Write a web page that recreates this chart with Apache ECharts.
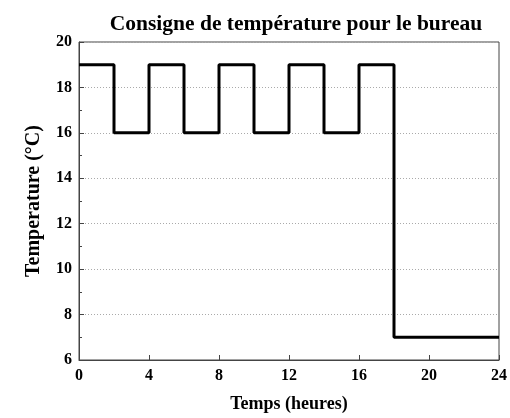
<!DOCTYPE html>
<html>
<head>
<meta charset="utf-8">
<script src="https://cdn.jsdelivr.net/npm/echarts@6/dist/echarts.min.js"></script>
<style>
html, body { margin: 0; padding: 0; background: #fff; }
#chart { width: 510px; height: 418px; }
</style>
</head>
<body>
<div id="chart"></div>
<script>
var hours = [0, 2, 4, 6, 8, 10, 12, 14, 16, 18, 24];
var setpoint = [19, 16, 19, 16, 19, 16, 19, 16, 19, 7, 7];

var points = hours.map(function (h, i) {
    return [h, setpoint[i]];
});

var font = 'Liberation Serif';
var option = {
    animation: false,
    title: {
        text: 'Consigne de température pour le bureau',
        left: 291,
        textAlign: 'center',
        top: 8,
        textStyle: { fontFamily: font, fontWeight: 'bold', fontSize: 21.5, color: '#000' }
    },
    grid: {
        left: 79,
        right: 7,
        top: 42,
        bottom: 55,
        show: true,
        borderColor: '#444',
        borderWidth: 1
    },
    xAxis: {
        type: 'value',
        min: 0,
        max: 24,
        interval: 4,
        name: 'Temps (heures)',
        nameLocation: 'middle',
        nameGap: 35,
        nameTextStyle: { fontFamily: font, fontWeight: 'bold', fontSize: 18, color: '#000' },
        axisLine: { lineStyle: { color: '#444' } },
        axisTick: { inside: true, length: 5, lineStyle: { color: '#444' } },
        axisLabel: { fontFamily: font, fontWeight: 'bold', fontSize: 16, color: '#000', margin: 8 },
        splitLine: { show: false }
    },
    yAxis: {
        type: 'value',
        min: 6,
        max: 20,
        interval: 2,
        name: 'Temperature (°C)',
        nameLocation: 'middle',
        nameGap: 35,
        nameTextStyle: { fontFamily: font, fontWeight: 'bold', fontSize: 20, color: '#000' },
        axisLine: { lineStyle: { color: '#444' } },
        axisTick: { inside: true, length: 5, lineStyle: { color: '#444' } },
        minorTick: { show: true, splitNumber: 2, length: 3, lineStyle: { color: '#444' } },
        axisLabel: { fontFamily: font, fontWeight: 'bold', fontSize: 16, color: '#000', margin: 7 },
        splitLine: { show: true, lineStyle: { color: '#aaa', type: [1, 2], width: 1 } }
    },
    series: [{
        type: 'line',
        step: 'end',
        data: points,
        showSymbol: false,
        lineStyle: { color: '#000', width: 3 }
    }]
};

var chart = echarts.init(document.getElementById('chart'));
chart.setOption(option);
</script>
</body>
</html>
